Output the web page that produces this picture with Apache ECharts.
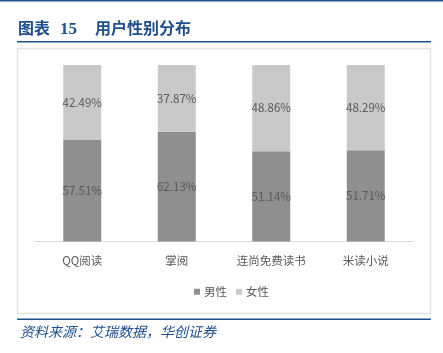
<!DOCTYPE html>
<html>
<head>
<meta charset="utf-8">
<script src="https://cdn.jsdelivr.net/npm/echarts@6/dist/echarts.min.js"></script>
<style>
  html, body { margin: 0; padding: 0; background: #fff; }
  #chart { width: 443px; height: 353px; }
</style>
</head>
<body>
<div id="chart"></div>
<script>
const categories = ['QQ阅读', '掌阅', '连尚免费读书', '米读小说'];
const maleShare = [57.51, 62.13, 51.14, 51.71];
const femaleShare = [42.49, 37.87, 48.86, 48.29];
const seriesNames = ['男性', '女性'];

const blue = '#1f4e8c';
const font = '"Noto Sans CJK SC", "Liberation Sans", sans-serif';

const chart = echarts.init(document.getElementById('chart'));

const labelStyle = {
  show: true,
  position: 'inside',
  color: '#595959',
  fontSize: 11.5,
  fontFamily: font,
  formatter: p => p.value.toFixed(2) + '%'
};

chart.setOption({
  animation: false,
  textStyle: { fontFamily: font },
  graphic: [
    { type: 'rect', shape: { x: 0, y: 0, width: 443, height: 1.5 }, style: { fill: blue } },
    // title, split so the gaps match
    {
      type: 'text', left: 18, top: 20,
      style: { text: '图表', fill: blue, font: 'bold 16px "Noto Sans CJK SC", serif' }
    },
    {
      type: 'text', left: 60, top: 21,
      style: { text: '15', fill: blue, font: 'bold 17px "Liberation Serif", serif' }
    },
    {
      type: 'text', left: 95, top: 20,
      style: { text: '用户性别分布', fill: blue, font: 'bold 16px "Noto Sans CJK SC", serif' }
    },
    { type: 'rect', shape: { x: 17, y: 41, width: 414, height: 1.5 }, style: { fill: blue } },
    {
      type: 'rect', shape: { x: 17.5, y: 48.5, width: 413, height: 265 },
      style: { fill: 'none', stroke: '#e3e3e3', lineWidth: 1.5 }
    },
    { type: 'rect', shape: { x: 17, y: 318.5, width: 414, height: 1.5 }, style: { fill: blue } },
    {
      type: 'text', left: 20, top: 325,
      style: { text: '资料来源：艾瑞数据，华创证券', fill: blue, font: 'italic 14px "Noto Sans CJK SC", serif' }
    }
  ],
  grid: { left: 35, right: 30, top: 65, bottom: 111.5, containLabel: false },
  legend: {
    data: seriesNames,
    top: 281,
    left: 189,
    itemWidth: 6,
    itemHeight: 6,
    itemGap: 9,
    icon: 'rect',
    textStyle: { color: '#595959', fontSize: 11.5, fontFamily: font, padding: [0, 0, 0, -1] }
  },
  xAxis: {
    type: 'category',
    data: categories,
    axisLine: { lineStyle: { color: '#d9d9d9', width: 1 } },
    axisTick: { show: false },
    axisLabel: { color: '#595959', fontSize: 11.5, margin: 13, fontFamily: font }
  },
  yAxis: {
    type: 'value',
    min: 0,
    max: 100,
    show: false
  },
  series: [
    {
      name: seriesNames[0],
      type: 'bar',
      stack: 'total',
      barWidth: 38,
      data: maleShare,
      itemStyle: { color: '#8f8f8f' },
      label: labelStyle
    },
    {
      name: seriesNames[1],
      type: 'bar',
      stack: 'total',
      barWidth: 38,
      data: femaleShare,
      itemStyle: { color: '#c9c9c9' },
      label: labelStyle
    }
  ]
});
</script>
</body>
</html>
